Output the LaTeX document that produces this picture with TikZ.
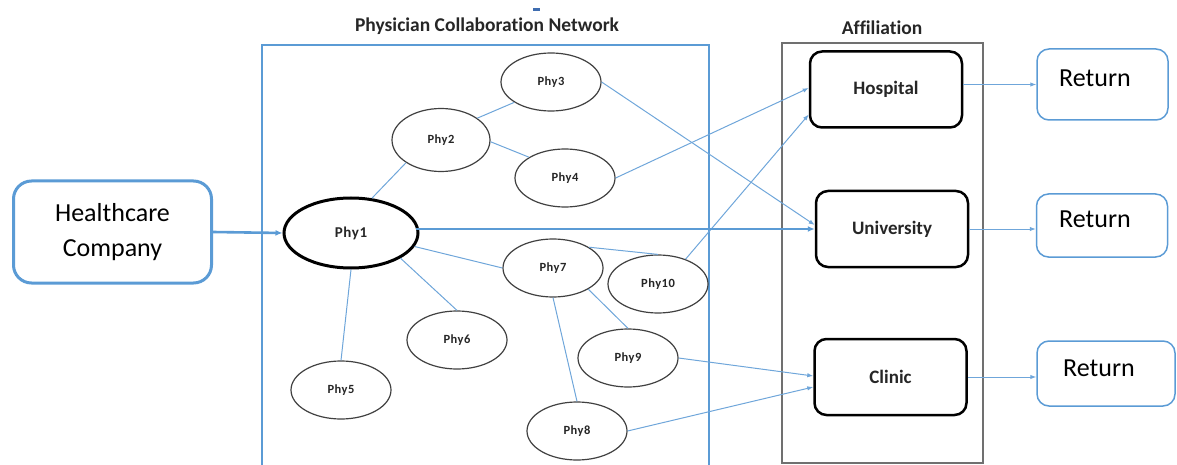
\documentclass[tikz,border=0pt]{standalone}
\usepackage{fontspec}
\setmainfont{Carlito}[Ligatures=NoCommon]
\newfontfamily\phyfont{Carlito}[LetterSpace=4]
\usetikzlibrary{arrows.meta,shapes.geometric,calc}

\definecolor{netblue}{HTML}{5B9BD5}
\definecolor{linkblue}{HTML}{6FA6DA}
\definecolor{ringgray}{HTML}{404040}
\definecolor{framegray}{HTML}{707070}
\definecolor{dashblue}{HTML}{3F6DB0}

\tikzset{
  phy/.style={ellipse, draw=ringgray, line width=1.2pt, minimum width=100pt,
    minimum height=58pt, inner sep=0pt,
    font=\phyfont\bfseries\fontsize{12.5}{14}\selectfont, text=black!85},
  affbox/.style={draw=black, line width=2.5pt, rounded corners=12pt,
    minimum width=152pt, minimum height=76pt, inner sep=0pt,
    font=\bfseries\fontsize{19}{22}\selectfont, text=black!85},
  retbox/.style={draw=netblue, line width=1.5pt, rounded corners=12pt, inner sep=0pt},
  rettext/.style={font=\fontsize{26}{30}\selectfont, text=black, inner sep=0pt},
  titletext/.style={font=\bfseries\fontsize{19.5}{22}\selectfont, text=black!85},
  link/.style={draw=linkblue, line width=1pt},
  linkarrow/.style={draw=linkblue, line width=1pt, -{Latex[length=6pt,width=4.5pt]}},
  mainarrow/.style={draw=netblue, line width=2.6pt, -{Latex[length=7pt,width=6pt]}},
}

\begin{document}
\begin{tikzpicture}[x=1pt,y=-1pt]
\useasboundingbox (0,0) rectangle (1177,465);

% small marker above the network title
\fill[dashblue] (533,8) rectangle (540,11);

% network frame (runs off the lower edge)
\draw[netblue, line width=2.5pt] (262,480) -- (262,45) -- (709,45) -- (709,480);
\node[titletext] (nettitle) at (487,26) {Physician Collaboration Network};

% affiliation frame
\draw[framegray, line width=1.4pt] (782,43) rectangle (983,463);
\node[titletext] (afftitle) at (882,28) {Affiliation};

% company
\node[draw=netblue, line width=3pt, rounded corners=18pt, minimum width=198pt,
  minimum height=102pt, inner sep=0pt, align=center,
  font=\fontsize{26}{35}\selectfont] (hc) at (112.5,232) {Healthcare\\Company};

% physicians
\node[phy, line width=3pt, draw=black, minimum width=134pt, minimum height=70pt,
  font=\phyfont\bfseries\fontsize{15}{17}\selectfont] (p1) at (351,233) {Phy1};
\node[phy, minimum width=98pt, minimum height=63pt] (p2) at (441,140) {Phy2};
\node[phy] (p3) at (551,82) {Phy3};
\node[phy] (p4) at (565,178) {Phy4};
\node[phy] (p5) at (341,390) {Phy5};
\node[phy] (p6) at (457,340) {Phy6};
\node[phy] (p7) at (553,268) {Phy7};
\node[phy] (p8) at (577,431) {Phy8};
\node[phy] (p9) at (628,358) {Phy9};
\node[phy] (p10) at (658,284) {Phy10};

% affiliations
\node[affbox] (hosp) at (886,89.5) {Hospital};
\node[affbox] (univ) at (892,229) {University};
\node[affbox] (clin) at (890.5,377) {Clinic};

% returns
\node[retbox, minimum width=131pt, minimum height=71pt] (r1) at (1102.5,84.5) {};
\node[rettext] (r1t) at (1095,78) {Return};
\node[retbox, minimum width=131pt, minimum height=63pt] (r2) at (1102,225.5) {};
\node[rettext] (r2t) at (1095,219) {Return};
\node[retbox, minimum width=138pt, minimum height=65pt] (r3) at (1106,373.5) {};
\node[rettext] (r3t) at (1099,368) {Return};

% collaboration links
\draw[link] (p1.59) -- (p2.213);
\draw[link] (p2.31) -- (p3.209);
\draw[link] (p2.358) -- (p4.150);
\draw[link] (p1.-12) -- (p7.west);
\draw[link] (p1.-27) -- (p6.north);
\draw[link] (p1.south) -- (p5.north);
\draw[link] (p7.30) -- (p10.north);
\draw[link] (p7.-31) -- (p9.north);
\draw[link] (p7.south) -- (p8.north);

% affiliation links
\draw[linkarrow] (p3.east) -- ([yshift=4pt]univ.west);
\draw[linkarrow] (p4.east) -- ([yshift=1.5pt]hosp.west);
\draw[linkarrow] (p10.42) -- ([yshift=-25pt]hosp.west);
\draw[linkarrow] (p9.east) -- ([yshift=1pt]clin.west);
\draw[linkarrow] (p8.east) -- ([yshift=-10pt]clin.west);

% main flow
\draw[mainarrow] (hc.east) -- (p1.west);
\draw[mainarrow] ([xshift=-4pt]p1.east |- univ.west) -- (univ.west);

% returns
\draw[linkarrow] (hosp.east |- r1.west) -- (r1.west);
\draw[linkarrow] (univ.east) -- (univ.east -| r2.west);
\draw[linkarrow] (clin.east) -- (clin.east -| r3.west);
\end{tikzpicture}
\end{document}
